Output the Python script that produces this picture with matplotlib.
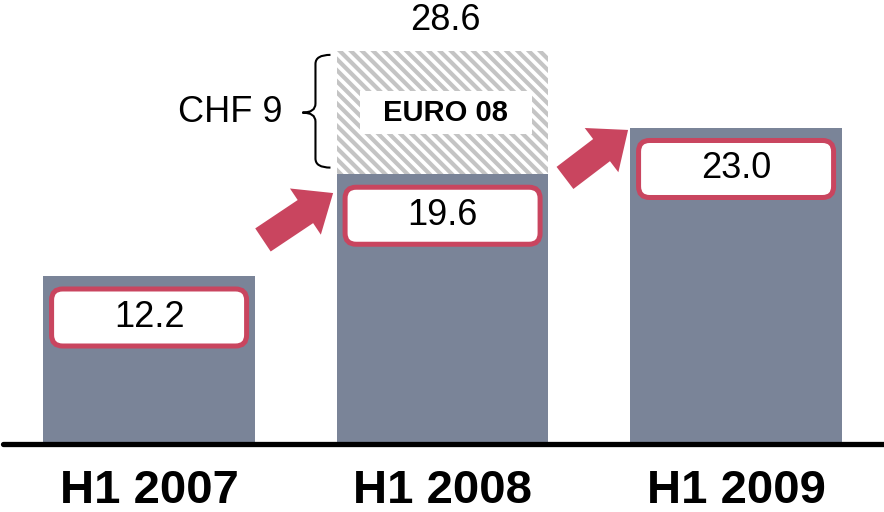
import matplotlib
matplotlib.use("Agg")
import matplotlib.pyplot as plt
from matplotlib.patches import FancyBboxPatch, FancyArrowPatch, Rectangle, PathPatch
from matplotlib.path import Path

plt.rcParams['font.family'] = ['Liberation Sans', 'DejaVu Sans']
plt.rcParams['hatch.linewidth'] = 3.0

# data
periods = ['H1 2007', 'H1 2008', 'H1 2009']
base = [12.2, 19.6, 23.0]
euro_extra = [0, 9.0, 0]
total_2008 = 28.6
extra_label = 'CHF 9'
extra_name = 'EURO 08'

bar_color = '#7A8498'
red = '#C9455F'
hatch_grey = '#C4C4C4'

fig = plt.figure(figsize=(8.84, 5.12), dpi=100)
ax = fig.add_axes([0, 1 - 444 / 512, 1, 444 / 512])
ax.set_xlim(-0.508, 2.504)
ax.set_ylim(0, 32.29)
for s in ax.spines.values():
    s.set_visible(False)
ax.set_yticks([])

x = list(range(len(periods)))
w = 0.72
ax.bar(x, base, width=w, color=bar_color, zorder=2)
ax.bar(x, euro_extra, width=w, bottom=base, color='white', edgecolor=hatch_grey,
       hatch='\\\\\\', linewidth=0, zorder=2)

ax.axhline(0, xmin=0.003, color='black', lw=3.8, solid_capstyle='round', zorder=3, clip_on=False)

ax.set_xticks(x)
ax.set_xticklabels(periods, fontsize=34, fontweight='bold')
ax.tick_params(axis='x', length=0, pad=18)

# aspect factor: x px per unit / y px per unit
px_x = fig.get_figwidth() * fig.dpi / (ax.get_xlim()[1] - ax.get_xlim()[0])
px_y = fig.get_figheight() * fig.dpi * (444 / 512) / (ax.get_ylim()[1] - ax.get_ylim()[0])
asp = px_x / px_y

# value boxes
bw, bh = 195 / px_x, 57 / px_y
for xi, v in zip(x, base):
    yc = v - 3.0
    box = FancyBboxPatch((xi - bw / 2, yc - bh / 2), bw, bh,
                         boxstyle='round,pad=0,rounding_size=%f' % (11 / px_x),
                         mutation_aspect=asp, fc='white', ec=red, lw=3.6, zorder=4)
    ax.add_patch(box)
    ax.text(xi, yc, f'{v:.1f}', ha='center', va='center', fontsize=26, zorder=5)

# total on top of 2008
ax.text(1 + 0.01, total_2008 + 2.2, f'{total_2008:.1f}', ha='center', va='center', fontsize=26)

# EURO 08 label box
ymid = base[1] + euro_extra[1] / 2
lw_, lh_ = 172 / px_x, 43 / px_y
ax.add_patch(Rectangle((1 + 0.01 - lw_ / 2, ymid - lh_ / 2), lw_, lh_, fc='white', ec='none', zorder=4))
ax.text(1 + 0.01, ymid, extra_name, ha='center', va='center', fontsize=21,
        fontweight='bold', zorder=5)

# brace
x1 = 1 - w / 2 - 0.022
xm = x1 - 15 / px_x
x0 = x1 - 28 / px_x
ytop = total_2008 - 0.3
ybot = base[1] + 0.5
r = 9 / px_y
verts = [(x1, ytop), (xm, ytop), (xm, ytop - r),
         (xm, ymid + r),
         (xm, ymid), (x0, ymid),
         (xm, ymid), (xm, ymid - r),
         (xm, ybot + r),
         (xm, ybot), (x1, ybot)]
codes = [Path.MOVETO, Path.CURVE3, Path.CURVE3,
         Path.LINETO,
         Path.CURVE3, Path.CURVE3,
         Path.CURVE3, Path.CURVE3,
         Path.LINETO,
         Path.CURVE3, Path.CURVE3]
ax.add_patch(PathPatch(Path(verts, codes), fc='none', ec='black', lw=1.5, zorder=4))
ax.text(x0 - 20 / px_x, ymid, extra_label, ha='right', va='center', fontsize=26)

# growth arrows
arrows = [((0.388, 14.84), (0.627, 18.25)),
          ((1.417, 19.35), (1.632, 22.84))]
for (a, b) in arrows:
    arr = FancyArrowPatch(a, b, arrowstyle='simple,head_length=0.6,head_width=1.0,tail_width=0.5',
                          mutation_scale=40, fc=red, ec='none', shrinkA=0, shrinkB=0, zorder=4)
    ax.add_patch(arr)

fig.savefig('out.png', dpi=100)
